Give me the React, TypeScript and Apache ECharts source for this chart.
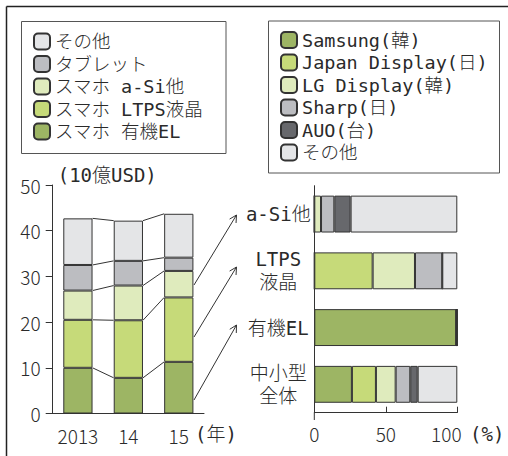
import React, { useEffect, useRef } from "react";
import * as echarts from "echarts";

// ---- Left chart data (10億USD) ----
const years = ["2013", "14", "15"];
const oledValues = [10.0, 7.8, 11.3];
const ltpsValues = [10.5, 12.6, 14.1];
const asiValues = [6.4, 7.6, 5.8];
const tabletValues = [5.6, 5.4, 2.9];
const otherValues = [10.2, 8.8, 9.6];
const leftNames = ["スマホ 有機EL", "スマホ LTPS液晶", "スマホ a-Si他", "タブレット", "その他"];
const yTicks = [0, 10, 20, 30, 40, 50];

// ---- Right chart data (%) ----
const segments = ["中小型\n全体", "有機EL", "LTPS\n液晶", "a-Si他"];
const samsungShare = [26.3, 99.3, 0, 0];
const jdiShare = [16.8, 0, 40.8, 0];
const lgShare = [13.8, 0, 29.6, 4.7];
const sharpShare = [10.2, 0, 19.1, 9.3];
const auoShare = [5.2, 0.7, 0, 11.4];
const otherShare = [27.7, 0, 10.5, 74.6];
const rightNames = ["Samsung(韓)", "Japan Display(日)", "LG Display(韓)", "Sharp(日)", "AUO(台)", "その他"];
const xTicks = [0, 50, 100];

const C_DARKGREEN = "#9db564";
const C_GREEN = "#c6da79";
const C_PALE = "#dfebbd";
const C_GRAY = "#bcbdc1";
const C_DARK = "#67686c";
const C_LIGHT = "#e4e5e7";

const FONT_NUM = "'Noto Sans CJK JP', sans-serif";
const FONT_TXT = "'DejaVu Sans Mono', 'Noto Sans CJK JP', monospace";
const FW = 300;
const TXT = "#2a2a2a";
const AX = "#333";

export default function App() {
  const ref = useRef<HTMLDivElement>(null);
  useEffect(() => {
    if (!ref.current) return;
    const chart = echarts.init(ref.current, undefined, { renderer: "svg" });

    const leftData = [oledValues, ltpsValues, asiValues, tabletValues, otherValues];
    const leftColors = [C_DARKGREEN, C_GREEN, C_PALE, C_GRAY, C_LIGHT];
    const rightData = [samsungShare, jdiShare, lgShare, sharpShare, auoShare, otherShare];
    const rightColors = [C_DARKGREEN, C_GREEN, C_PALE, C_GRAY, C_DARK, C_LIGHT];
    const barBorder = { borderColor: "#333", borderWidth: 1 };
    const barRatio = 0.58;

    const cumulative = (yi: number) => {
      const out: number[] = [];
      let s = 0;
      for (let k = 0; k < leftData.length; k++) {
        s += leftData[k][yi];
        out.push(s);
      }
      return out;
    };

    const leftSeries = leftData.map((vals, k) => ({
      type: "bar",
      name: leftNames[k],
      stack: "left",
      xAxisIndex: 0,
      yAxisIndex: 0,
      barWidth: barRatio * 100 + "%",
      data: vals,
      itemStyle: { color: leftColors[k], ...barBorder },
    }));

    const rightSeries = rightData.map((vals, k) => ({
      type: "bar",
      name: rightNames[k],
      stack: "right",
      xAxisIndex: 1,
      yAxisIndex: 1,
      barWidth: "65%",
      data: vals,
      itemStyle: { color: rightColors[k], ...barBorder },
    }));

    const connectorSeries = {
      type: "custom",
      xAxisIndex: 0,
      yAxisIndex: 0,
      silent: true,
      data: years.slice(0, years.length - 1).map((_, i) => [i, 0]),
      encode: { x: 0, y: 1 },
      renderItem: (params: any, api: any) => {
        const g = api.value(0);
        const a = cumulative(g);
        const b = cumulative(g + 1);
        const half = (api.size([1, 0])[0] * barRatio) / 2;
        const children = a.map((va, k) => {
          const p1 = api.coord([g, va]);
          const p2 = api.coord([g + 1, b[k]]);
          return {
            type: "line",
            shape: { x1: p1[0] + half, y1: p1[1], x2: p2[0] - half, y2: p2[1] },
            style: { stroke: "#333", lineWidth: 1 },
          };
        });
        return { type: "group", children };
      },
    };

    const arrows = [
      [194, 285, 236.5, 215],
      [194, 337, 236.5, 267],
      [194, 400, 236.5, 325],
    ];
    const arrowGraphics: any[] = [];
    arrows.forEach(([x1, y1, x2, y2]) => {
      arrowGraphics.push({
        type: "line",
        shape: { x1, y1, x2, y2 },
        style: { stroke: "#333", lineWidth: 1 },
      });
      const ang = Math.atan2(y1 - y2, x1 - x2);
      const L = 8;
      const d = (28 * Math.PI) / 180;
      arrowGraphics.push({
        type: "polyline",
        shape: {
          points: [
            [x2 + L * Math.cos(ang + d), y2 + L * Math.sin(ang + d)],
            [x2, y2],
            [x2 + L * Math.cos(ang - d), y2 + L * Math.sin(ang - d)],
          ],
        },
        style: { stroke: "#333", lineWidth: 1, fill: "none" },
      });
    });

    const legendText = { fontFamily: FONT_TXT, fontSize: 18.5, fontWeight: FW, lineHeight: 20, color: TXT };

    const option: any = {
      animation: false,
      textStyle: { fontFamily: FONT_NUM, color: TXT },
      grid: [
        { left: 52.7, top: 185, width: 151.3, height: 228.5 },
        { left: 314.3, top: 185.7, width: 143, height: 227 },
      ],
      legend: [
        {
          orient: "vertical",
          left: 33,
          top: 31.5,
          padding: 0,
          selectedMode: false,
          itemWidth: 16,
          itemHeight: 16,
          itemGap: 2.5,
          data: leftNames.slice().reverse(),
          textStyle: legendText,
        },
        {
          orient: "vertical",
          left: 280,
          top: 30,
          padding: 0,
          selectedMode: false,
          itemWidth: 16,
          itemHeight: 16,
          itemGap: 2.5,
          data: rightNames,
          textStyle: legendText,
        },
      ],
      xAxis: [
        {
          type: "category",
          gridIndex: 0,
          data: years,
          axisLine: { lineStyle: { color: AX } },
          axisTick: { length: 8, lineStyle: { color: AX } },
          axisLabel: { interval: 0, fontSize: 19, fontWeight: FW, margin: 12, color: TXT, fontFamily: FONT_NUM },
        },
        {
          type: "value",
          gridIndex: 1,
          min: xTicks[0],
          max: xTicks[xTicks.length - 1],
          interval: xTicks[1] - xTicks[0],
          splitLine: { show: false },
          axisLine: { show: true, lineStyle: { color: AX } },
          axisTick: { show: true, inside: true, length: 6, lineStyle: { color: AX } },
          axisLabel: {
            fontSize: 19,
            fontWeight: FW,
            margin: 11,
            color: TXT,
            fontFamily: FONT_NUM,
            formatter: (v: number) => (v === 100 ? "{m|100}" : String(v)),
            rich: { m: { fontSize: 19, fontWeight: FW, fontFamily: FONT_NUM, color: TXT, padding: [0, 22, 0, 0] } },
          },
        },
      ],
      yAxis: [
        {
          type: "value",
          gridIndex: 0,
          min: yTicks[0],
          max: yTicks[yTicks.length - 1],
          interval: yTicks[1] - yTicks[0],
          splitLine: { show: false },
          axisLine: { show: true, lineStyle: { color: AX } },
          axisTick: { show: true, length: 7, lineStyle: { color: AX } },
          axisLabel: { fontSize: 19, fontWeight: FW, margin: 12, color: TXT, fontFamily: FONT_NUM },
          name: "(10億USD)",
          nameLocation: "end",
          nameGap: 1,
          nameTextStyle: { fontSize: 19, fontWeight: FW, align: "left", color: TXT, fontFamily: FONT_TXT, padding: [0, 0, 0, 5] },
        },
        {
          type: "category",
          gridIndex: 1,
          data: segments,
          axisLine: { lineStyle: { color: AX } },
          axisTick: { length: 7, lineStyle: { color: AX } },
          axisLabel: {
            interval: 0,
            fontSize: 19,
            fontWeight: FW,
            lineHeight: 23,
            margin: 36,
            align: "center",
            color: TXT,
            fontFamily: FONT_TXT,
          },
        },
      ],
      graphic: [
        { type: "line", shape: { x1: 6.5, y1: 6.5, x2: 508, y2: 6.5 }, style: { stroke: "#222", lineWidth: 1.5 } },
        { type: "line", shape: { x1: 6.5, y1: 6.5, x2: 6.5, y2: 456 }, style: { stroke: "#222", lineWidth: 1.5 } },
        { type: "rect", shape: { x: 21.5, y: 21.5, width: 204.5, height: 132 }, style: { fill: "none", stroke: "#555", lineWidth: 1 } },
        { type: "rect", shape: { x: 268.5, y: 21, width: 231, height: 152 }, style: { fill: "none", stroke: "#555", lineWidth: 1 } },
        { type: "line", shape: { x1: 314.3, y1: 412.7, x2: 314.3, y2: 420 }, style: { stroke: AX, lineWidth: 1 } },
        { type: "text", x: 195, y: 424, style: { text: "(年)", fontSize: 19, fontWeight: FW, fontFamily: FONT_TXT, fill: TXT } },
        { type: "text", x: 470, y: 424, style: { text: "(%)", fontSize: 19, fontWeight: FW, fontFamily: FONT_TXT, fill: TXT } },
        ...arrowGraphics,
      ],
      series: [...leftSeries, connectorSeries, ...rightSeries],
    };
    chart.setOption(option);
    return () => chart.dispose();
  }, []);

  return (
    <div
      ref={ref}
      style={{ position: "fixed", left: 0, top: 0, width: 508, height: 456, background: "#fff" }}
    />
  );
}
